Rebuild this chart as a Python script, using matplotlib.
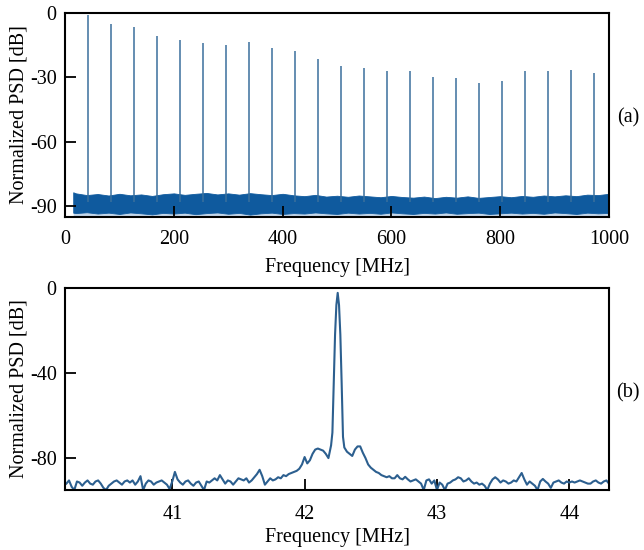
"""
Normalized PSD: (a) wide span with harmonics, (b) zoom on the 42.25 MHz line
"""
import numpy as np
import matplotlib
matplotlib.use("Agg")
import matplotlib.pyplot as plt

plt.rcParams['font.family'] = ['Liberation Serif', 'DejaVu Serif']
plt.rcParams['axes.unicode_minus'] = False
plt.rcParams['font.size'] = 14.5

# ---- (a) wide span ----
peak_freq = [42.25, 84.5, 126.75, 169.0, 211.25, 253.5, 295.75, 338.0, 380.25,
             422.5, 464.75, 507.0, 549.25, 591.5, 633.75, 676.0, 718.25, 760.5,
             802.75, 845.0, 887.25, 929.5, 971.75]
peak_db = [-0.9, -5.0, -6.7, -10.7, -12.8, -14.2, -15.1, -13.7, -16.5,
           -17.6, -21.3, -24.5, -25.7, -26.9, -26.9, -29.8, -30.5, -32.7,
           -31.5, -27.1, -26.8, -26.5, -27.9]

noise_freq = [15, 20, 40, 60, 80, 100, 120, 140, 160, 180, 200,
              220, 240, 260, 280, 300, 320, 340, 360, 380, 400,
              420, 440, 460, 480, 500, 520, 540, 560, 580, 600,
              620, 640, 660, 680, 700, 720, 740, 760, 780, 800,
              820, 840, 860, 880, 900, 920, 940, 960, 980, 1000]
noise_top = [-83.5, -84.0, -84.8, -84.3, -85.0, -84.2, -84.9, -84.5, -85.2, -84.4, -84.0,
             -84.7, -84.2, -83.8, -84.5, -84.0, -84.6, -83.9, -84.4, -84.8, -84.2,
             -84.9, -85.3, -84.7, -85.5, -85.1, -85.6, -85.0, -85.4, -85.8, -85.2,
             -85.7, -86.0, -85.5, -86.2, -85.6, -86.0, -85.4, -86.1, -85.7, -85.3,
             -85.8, -85.2, -85.6, -85.0, -85.4, -84.9, -85.3, -84.6, -84.8, -84.2]
noise_bot = [-93.0, -93.2, -92.8, -93.4, -93.0, -93.6, -92.9, -93.3, -93.8, -93.1, -93.4,
             -93.0, -93.7, -93.2, -92.9, -93.5, -93.1, -93.9, -93.3, -93.0, -93.6,
             -93.2, -93.4, -92.9, -93.3, -93.6, -93.0, -93.4, -93.1, -93.5, -92.9,
             -93.3, -93.6, -93.1, -93.4, -92.9, -93.5, -93.2, -93.0, -93.6, -93.3,
             -93.0, -93.4, -93.1, -93.5, -92.9, -93.2, -93.6, -93.0, -93.3, -93.1]

# ---- (b) zoom ----
zoom_freq = np.round(np.arange(40.20, 44.301, 0.02), 2)
zoom_db = [
    -92, -90.5, -93.5, -95, -91, -91.5, -93, -91.5, -90.5, -92,
    -92.5, -91, -90.5, -92, -94, -95, -93, -92, -91, -90.5,
    -91.5, -92.5, -91, -90.5, -91.5, -90.5, -92.5, -91, -88.5, -95,
    -92, -90.5, -91, -92.5, -91.5, -91, -90.5, -91.5, -92.5, -94.5,
    -91, -86.5, -90, -91.5, -92.5, -91, -90.5, -92, -93, -91.5,
    -91, -93, -95, -91, -91.5, -90.5, -89.5, -90.5, -88, -90,
    -92, -90.5, -91, -92.5, -91, -89.5, -90, -90.5, -89.5, -91.5,
    -90.5, -89, -87.5, -85.5, -88.5, -92.5, -91, -89.5, -90.5, -90,
    -89, -89.5, -88, -88.5, -87.5, -87, -86.5, -86, -85, -83,
    -79.5, -82.5, -81, -78, -76, -75.5, -76, -76.5, -78, -80,
    -74, -45, -8, -8, -45, -75, -77, -78, -79, -76,
    -74.5, -74.5, -77.5, -80, -83, -84.5, -85.5, -86.5, -87, -88,
    -88.5, -89, -88.5, -89.5, -89.5, -88, -89.5, -90, -88.8, -90,
    -91, -90.5, -90, -91, -92, -95, -90.5, -90, -92, -90.5,
    -95, -91.5, -92.5, -95, -92, -91.5, -90.5, -90, -89, -89.5,
    -91, -90.5, -89.5, -91, -92, -91.5, -92.5, -92, -93, -95,
    -92, -90, -89, -90, -91.5, -90.5, -91, -92, -91.5, -90.5,
    -91, -89, -87, -90, -92.5, -91, -92, -93, -95, -91,
    -89.8, -91, -92, -94, -91.5, -91, -90.5, -91.5, -92, -91,
    -91.5, -91, -91.5, -91, -90.5, -91, -91.5, -92, -92, -91,
    -90.5, -91.5, -92, -91, -90.5, -92,
]
# extra samples on the main lobe
lobe_freq = [42.21, 42.23, 42.25, 42.27, 42.29]
lobe_db = [-68, -22, -2.3, -22, -70]

f_b = np.concatenate([zoom_freq, lobe_freq])
p_b = np.concatenate([zoom_db, lobe_db])
order = np.argsort(f_b)
f_b, p_b = f_b[order], p_b[order]

fig = plt.figure(figsize=(6.44, 5.5), dpi=100)
ax1 = fig.add_axes([0.101, 0.6055, 0.8447, 0.3709])
ax2 = fig.add_axes([0.101, 0.1091, 0.8447, 0.3673])

band_col = '#0f5a9e'
ax1.fill_between(noise_freq, -95.5, noise_bot, color='#5b8fc4', alpha=0.35, lw=0)
ax1.fill_between(noise_freq, noise_bot, noise_top, color=band_col, lw=0.6, edgecolor=band_col)
ax1.vlines(peak_freq, -88, peak_db, color='#3a6f9c', lw=1.1)
ax1.set_xlim(0, 1000)
ax1.set_ylim(-95, 0)
ax1.set_xticks([0, 200, 400, 600, 800, 1000])
ax1.set_yticks([-90, -60, -30, 0])
ax1.set_xlabel("Frequency [MHz]", labelpad=6)
ax1.set_ylabel("Normalized PSD [dB]")
ax1.tick_params(axis='x', pad=9.5)

ax2.plot(f_b, p_b, color='#2c5f8f', lw=1.5)
ax2.set_xlim(40.19, 44.30)
ax2.set_ylim(-95, 0)
ax2.set_xticks([41, 42, 43, 44])
ax2.set_yticks([-80, -40, 0])
ax2.set_xlabel("Frequency [MHz]", labelpad=3)
ax2.set_ylabel("Normalized PSD [dB]")
ax2.tick_params(axis='x', pad=11)

for ax in (ax1, ax2):
    for s in ax.spines.values():
        s.set_linewidth(1.5)
    ax.tick_params(direction='in', length=8, width=1.3,
                   top=False, right=False)
    ax.tick_params(axis='y', pad=6)
    ax.yaxis.set_label_coords(-0.068, 0.5)

fig.text(0.975, 0.785, "(a)", ha='center', va='center')
fig.text(0.975, 0.285, "(b)", ha='center', va='center')

fig.savefig("out.png", dpi=100)
